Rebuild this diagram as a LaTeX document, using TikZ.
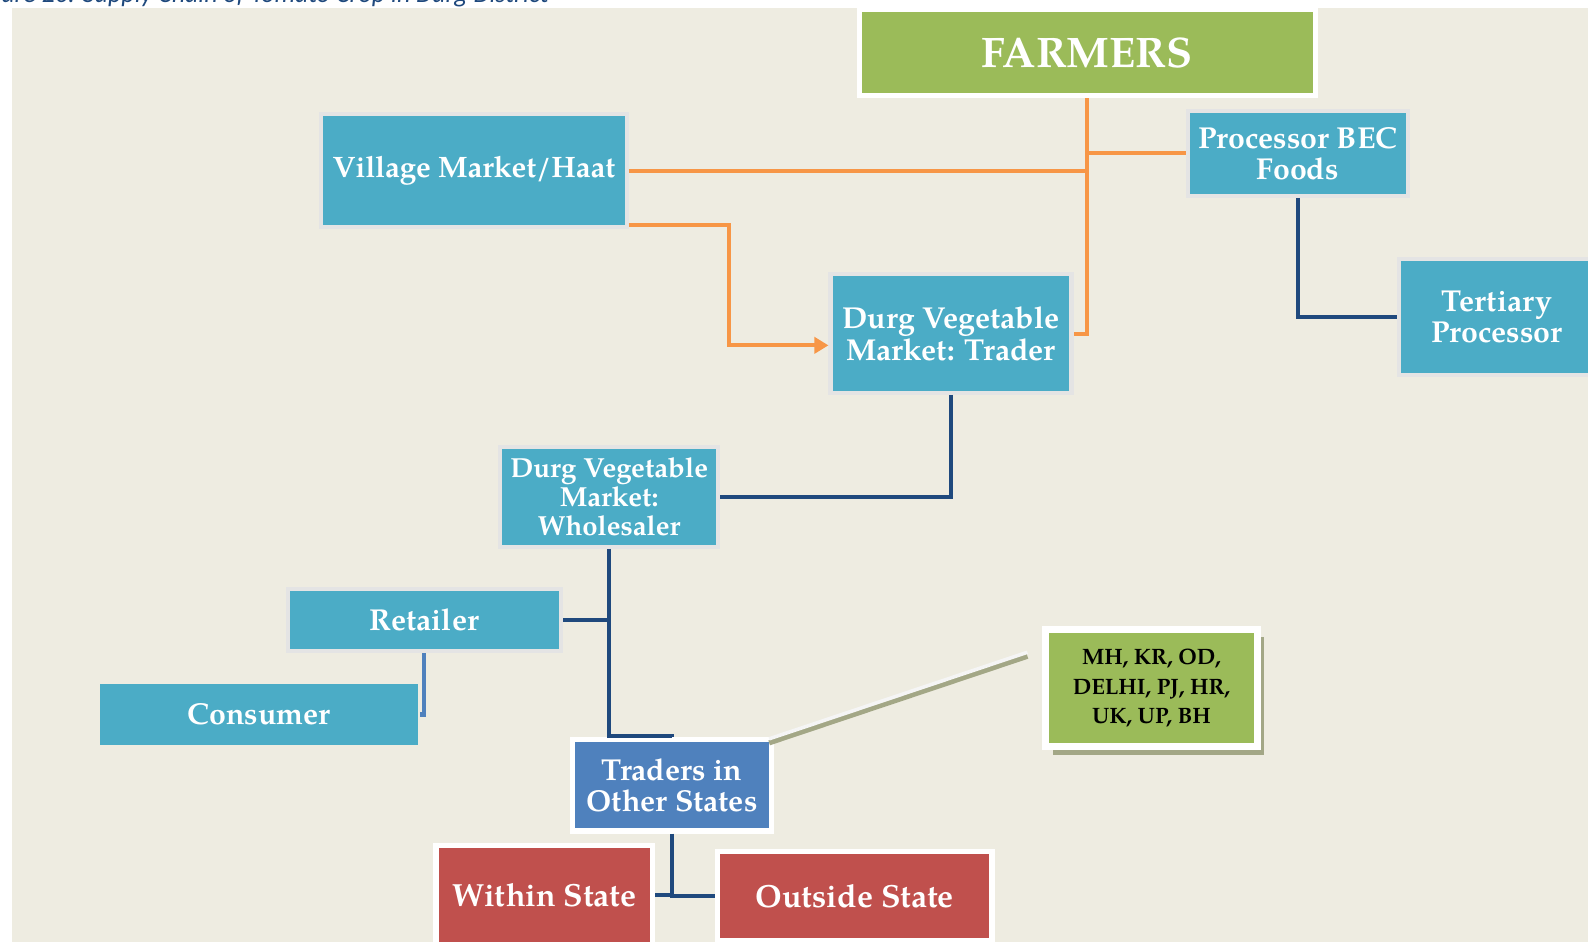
\documentclass[tikz,border=0pt]{standalone}
\usepackage{fontspec}
\setmainfont{TeX Gyre Pagella}
\newfontfamily\capfont{Carlito}
\usepackage{tikz}
\usetikzlibrary{positioning, arrows.meta, shadows}

\definecolor{bgtan}{HTML}{EEECE1}
\definecolor{tealfill}{HTML}{4BACC6}
\definecolor{greenfill}{HTML}{9BBB59}
\definecolor{redfill}{HTML}{C0504D}
\definecolor{bluefill}{HTML}{4F81BD}
\definecolor{flowcol}{HTML}{F79646}
\definecolor{linkcol}{HTML}{1F497D}
\definecolor{edgegray}{HTML}{E4E4E4}
\definecolor{olivegray}{HTML}{A3A786}
\definecolor{capblue}{HTML}{1F497D}

\tikzset{
    tealbox/.style={ % Light blue boxes of the markets
        rectangle, inner sep=0pt,
        fill=tealfill, draw=edgegray, line width=0.08cm,
        text=white, align=center,
        font=\bfseries\fontsize{17}{17.6}\selectfont
    },
    greenbox/.style={ % Top box
        tealbox, fill=greenfill, draw=white, line width=0.1cm,
        font=\bfseries\fontsize{24}{26}\selectfont
    },
    bluebox/.style={tealbox, fill=bluefill, draw=white, line width=0.1cm},
    redbox/.style={ % Boxes at the foot
        tealbox, fill=redfill, draw=white, line width=0.1cm,
        font=\bfseries\fontsize{18}{20}\selectfont
    },
    listbox/.style={ % Box with the list of states
        tealbox, fill=greenfill, draw=white, line width=0.14cm,
        text=black, font=\bfseries\fontsize{12.5}{16.5}\selectfont,
        drop shadow={shadow xshift=0.14cm, shadow yshift=-0.15cm,
            fill=olivegray, opacity=1}
    },
    flow/.style={draw=flowcol, line width=0.08cm}, % Orange lines
    link/.style={draw=linkcol, line width=0.08cm}, % Dark blue lines
    caption/.style={
        anchor=base east, text=capblue,
        font=\capfont\itshape\fontsize{14.6}{17}\selectfont
    }
}

\begin{document}
\begin{tikzpicture}[x=0.02cm, y=-0.02cm] % one unit is one pixel, y downwards
    \useasboundingbox (0,0) rectangle (1568,930);
    \fill[white] (0,0) rectangle (1568,930);
    \fill[bgtan] (12,8) rectangle (1568,930);
    \node[caption] (cap) at (548,2.5) {Figure 20: Supply Chain of Tomato Crop in Durg District};

    % boxes
    \node[greenbox, minimum width=9cm, minimum height=1.7cm] (farm) at (1073.5,52) {FARMERS};
    \node[tealbox, font=\bfseries\fontsize{16.6}{17.6}\selectfont,
        minimum width=6.04cm, minimum height=2.22cm] (village) at (468,168.5) {Village Market/Haat};
    \node[tealbox, minimum width=4.34cm, minimum height=1.68cm] (proc) at (1281.5,151.5) {Processor BEC\\Foods};
    \node[tealbox, minimum width=3.88cm, minimum height=2.28cm] (tert) at (1478,313) {Tertiary\\Processor};
    \node[tealbox, minimum width=4.76cm, minimum height=2.34cm] (trader) at (939,329.5) {Durg Vegetable\\Market: Trader};
    \node[tealbox, font=\bfseries\fontsize{15.5}{16.2}\selectfont,
        minimum width=4.3cm, minimum height=1.98cm] (whole) at (601.5,490.5) {Durg Vegetable\\Market:\\Wholesaler};
    \node[tealbox, minimum width=5.4cm, minimum height=1.22cm] (retail) at (419,612.5) {Retailer};
    \node[tealbox, draw=none, minimum width=6.28cm, minimum height=1.22cm] (cons) at (256,705.5) {Consumer};
    \node[bluebox, minimum width=3.92cm, minimum height=1.8cm] (other) at (663.5,775.5) {Traders in\\Other States};
    \node[listbox, minimum width=4.18cm, minimum height=2.32cm] (states) at (1137,679.5) {MH, KR, OD,\\DELHI, PJ, HR,\\UK, UP, BH};
    \node[redbox, minimum width=4.28cm, minimum height=1.98cm] (within) at (537.5,884) {Within State};
    \node[redbox, minimum width=5.42cm, minimum height=1.76cm] (outside) at (844,884.5) {Outside State};

    % orange flows out of the farmers
    \draw[flow] (farm.south) |- (trader.east);
    \draw[flow] (village.east) -- (village.east -| farm.south);
    \draw[flow] (proc.west) -- (proc.west -| farm.south);
    \draw[flow, -{Triangle[length=0.28cm, width=0.32cm]}] ([yshift=0.08cm]village.south east) -- ++(99,0) |- ([yshift=-0.23cm]trader.west);

    % dark blue links
    \draw[link] (proc.south) |- (tert.west);
    \draw[link] (trader.south) |- (whole.east);
    \draw[link] (whole.south) -- ++(0,185) -| (other.north);
    \draw[link] (retail.east) -- (retail.east -| whole.south);
    \draw[link] (other.south) |- (outside.west);
    \draw[link] (within.east) -- (within.east -| other.south);
    \draw[link, draw=bluefill] (retail.south) |- (cons.east);

    % shaded line to the list of states
    \coordinate (t1) at ([xshift=-0.09cm, yshift=-0.11cm]other.north east);
    \coordinate (t2) at ([xshift=-0.29cm, yshift=0.63cm]states.west);
    \draw[draw=olivegray, line width=0.1cm] (t1) -- (t2);
    \draw[draw=white!96!black, line width=0.07cm] ([yshift=0.08cm]t1) -- ([yshift=0.08cm]t2);
\end{tikzpicture}
\end{document}
